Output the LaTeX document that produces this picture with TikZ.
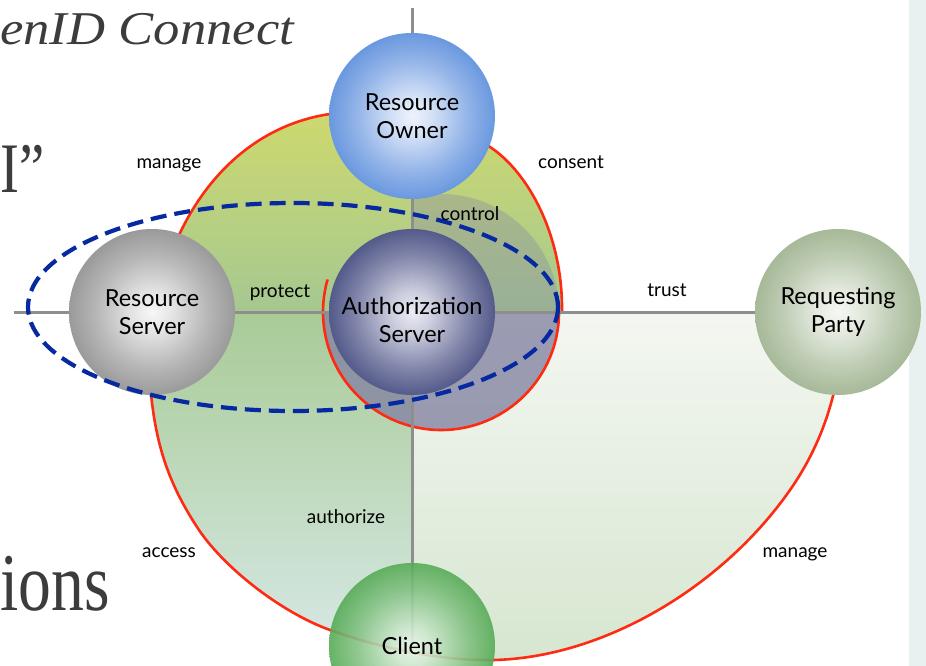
\documentclass[tikz,border=0pt]{standalone}
\usepackage{fontspec}
\usepackage{graphicx}
\setmainfont{Liberation Serif}
\newfontfamily\gillish{Lato}

% palette
\definecolor{redline}{HTML}{FF2A12}
\definecolor{axisgray}{HTML}{8E8E8E}
\definecolor{dashblue}{HTML}{0628A0}
\definecolor{slidegray}{HTML}{3C3C3C}
\definecolor{sidebar}{HTML}{E9F1F0}
\definecolor{manageTop}{HTML}{D0DA6C}
\definecolor{manageBottom}{HTML}{A5C891}
\definecolor{accessTop}{HTML}{A8CB96}
\definecolor{accessBottom}{HTML}{D8E9E8}
\definecolor{partyTop}{HTML}{F4F7F1}
\definecolor{partyBottom}{HTML}{D6E6D0}
\definecolor{asVeil}{HTML}{8585A3}
\definecolor{roIn}{HTML}{EEF3FC}\definecolor{roOut}{HTML}{6A98DF}
\definecolor{rsIn}{HTML}{F7F7F7}\definecolor{rsOut}{HTML}{9A9A9A}
\definecolor{asIn}{HTML}{ECECF4}\definecolor{asOut}{HTML}{545A8A}
\definecolor{rpIn}{HTML}{F6F8F3}\definecolor{rpOut}{HTML}{A6B998}
\definecolor{clIn}{HTML}{E8F5E8}\definecolor{clOut}{HTML}{57AB57}

% glossy ball look for the five parties
\newcommand\ballshading[3]{%
  \pgfdeclareradialshading{#1}{\pgfpoint{0bp}{0bp}}{%
    color(0bp)=(#2); color(6bp)=(#2!80!#3); color(17bp)=(#2!30!#3);
    color(25bp)=(#3); color(50bp)=(#3)}}
\ballshading{roBall}{roIn}{roOut}
\ballshading{rsBall}{rsIn}{rsOut}
\ballshading{asBall}{asIn}{asOut}
\ballshading{rpBall}{rpIn}{rpOut}
\ballshading{clBall}{clIn}{clOut}

% outlines of the shaded domains
\newcommand\upperrim{(150,312)
  .. controls (152,280) and (165,252) .. (180,233)
  .. controls (210,170) and (262,124) .. (330,114)
  .. controls (380,100) and (450,110) .. (490,147)
  .. controls (528,172) and (563,235) .. (562,312)}
\newcommand\lowerrim{(148,312)
  .. controls (147,420) and (160,470) .. (197,527)
  .. controls (222,566) and (280,612) .. (330,630)
  .. controls (380,648) and (440,661) .. (493,660)
  .. controls (600,658) and (720,590) .. (790,490)
  .. controls (820,447) and (843,390) .. (843,312)}

\pgfdeclarelayer{regionlayer}
\pgfdeclarelayer{axislayer}
\pgfsetlayers{regionlayer,axislayer,main}

\tikzset{
  sphere/.style={circle, minimum size=166pt, inner sep=0pt, align=center,
    font=\gillish\fontsize{23.5}{28.5}\selectfont, text=black, shade},
  ballcaption/.style={align=center, inner sep=0pt,
    font=\gillish\fontsize{23.5}{28.5}\selectfont, text=black},
  axisline/.style={draw=axisgray, line width=3pt},
  redrim/.style={draw=redline, line width=2.6pt},
  relation/.style={font=\gillish\fontsize{19}{19}\selectfont, text=black,
    anchor=base, inner sep=0pt},
  groupring/.style={draw=dashblue, line width=4.2pt, dash pattern=on 16pt off 8pt},
  slidetext/.style={text=slidegray, inner sep=0pt},
}

\begin{document}
\begin{tikzpicture}[x=1pt,y=-1pt]
\useasboundingbox (0,0) rectangle (926,666);
\clip (0,0) rectangle (926,666);

% the five parties
\node[sphere, shading=roBall] (ro) at (412,116) {Resource\\Owner};
\node[sphere, shading=rsBall] (rs) at (152,312) {Resource\\Server};
\node[sphere, shading=asBall] (as) at (412,312) {};
\node[ballcaption] (as-name) at (412,320) {Authorization\\Server};
\node[sphere, shading=rpBall] (rp) at (838,312) {Requesting\\Party};
\node[sphere, shading=clBall, fill opacity=0.9, text opacity=1] (client) at (412,646) {Client};

\coordinate (west-end) at (14,312);
\coordinate (north-end) at (412,8);

\begin{pgfonlayer}{regionlayer}
  \clip (0,0) rectangle (926,666);
  \fill[white] (0,0) rectangle (926,666);
  \fill[sidebar] (909,0) rectangle (926,666);
  % lower domains
  \begin{scope}
    \clip (0,312) rectangle (412,700);
    \shade[top color=accessTop, bottom color=accessBottom] \lowerrim -- cycle;
  \end{scope}
  \begin{scope}
    \clip (412,312) rectangle (926,700);
    \shade[top color=partyTop, bottom color=partyBottom] \lowerrim -- cycle;
  \end{scope}
  % upper domain
  \shade[top color=manageTop, bottom color=manageBottom] \upperrim -- cycle;
  % authorization domain veil
  \begin{scope}
    \clip (0,312) rectangle (926,700);
    \fill[asVeil, fill opacity=0.8] (441,312) circle[radius=118];
  \end{scope}
  \begin{scope}
    \clip (412,0) rectangle (926,312);
    \fill[asVeil, fill opacity=0.35] (441,312) circle[radius=118];
  \end{scope}
  % red rims
  \draw[redrim] \upperrim;
  \draw[redrim] \lowerrim;
  \draw[redrim] (559,312) arc[start angle=0, end angle=196, radius=118];
\end{pgfonlayer}

\begin{pgfonlayer}{axislayer}
  \draw[axisline] (west-end) -- (rs.center) -- (as.center) -- (rp.center);
  \draw[axisline] (north-end) -- (ro.center) -- (as.center) -- (client.center);
\end{pgfonlayer}

% dashed grouping around resource server and authorization server
\draw[groupring] (293,307) ellipse [x radius=265, y radius=104];

% relation labels
\node[relation] (lbl-manage-rs) at (169,168) {manage};
\node[relation] (lbl-consent) at (571,168) {consent};
\node[relation] (lbl-control) at (470,220) {control};
\node[relation] (lbl-protect) at (280,297) {protect};
\node[relation] (lbl-trust) at (667,296) {trust};
\node[relation] (lbl-authorize) at (346,523) {authorize};
\node[relation] (lbl-access) at (169,557) {access};
\node[relation] (lbl-manage-rp) at (795,557) {manage};

% slide text behind the figure
\node[slidetext, anchor=base west] (slide-title) at (0,45)
  {\scalebox{1.12}[1]{\fontsize{47}{47}\selectfont\itshape enID Connect}};
\node[slidetext, anchor=base west] (slide-quote) at (0,192)
  {\scalebox{0.8}[1]{\fontsize{71}{71}\selectfont I”}};
\node[slidetext, anchor=base west] (slide-ions) at (0,610)
  {\scalebox{0.8}[1]{\fontsize{82}{82}\selectfont ions}};
\end{tikzpicture}
\end{document}
